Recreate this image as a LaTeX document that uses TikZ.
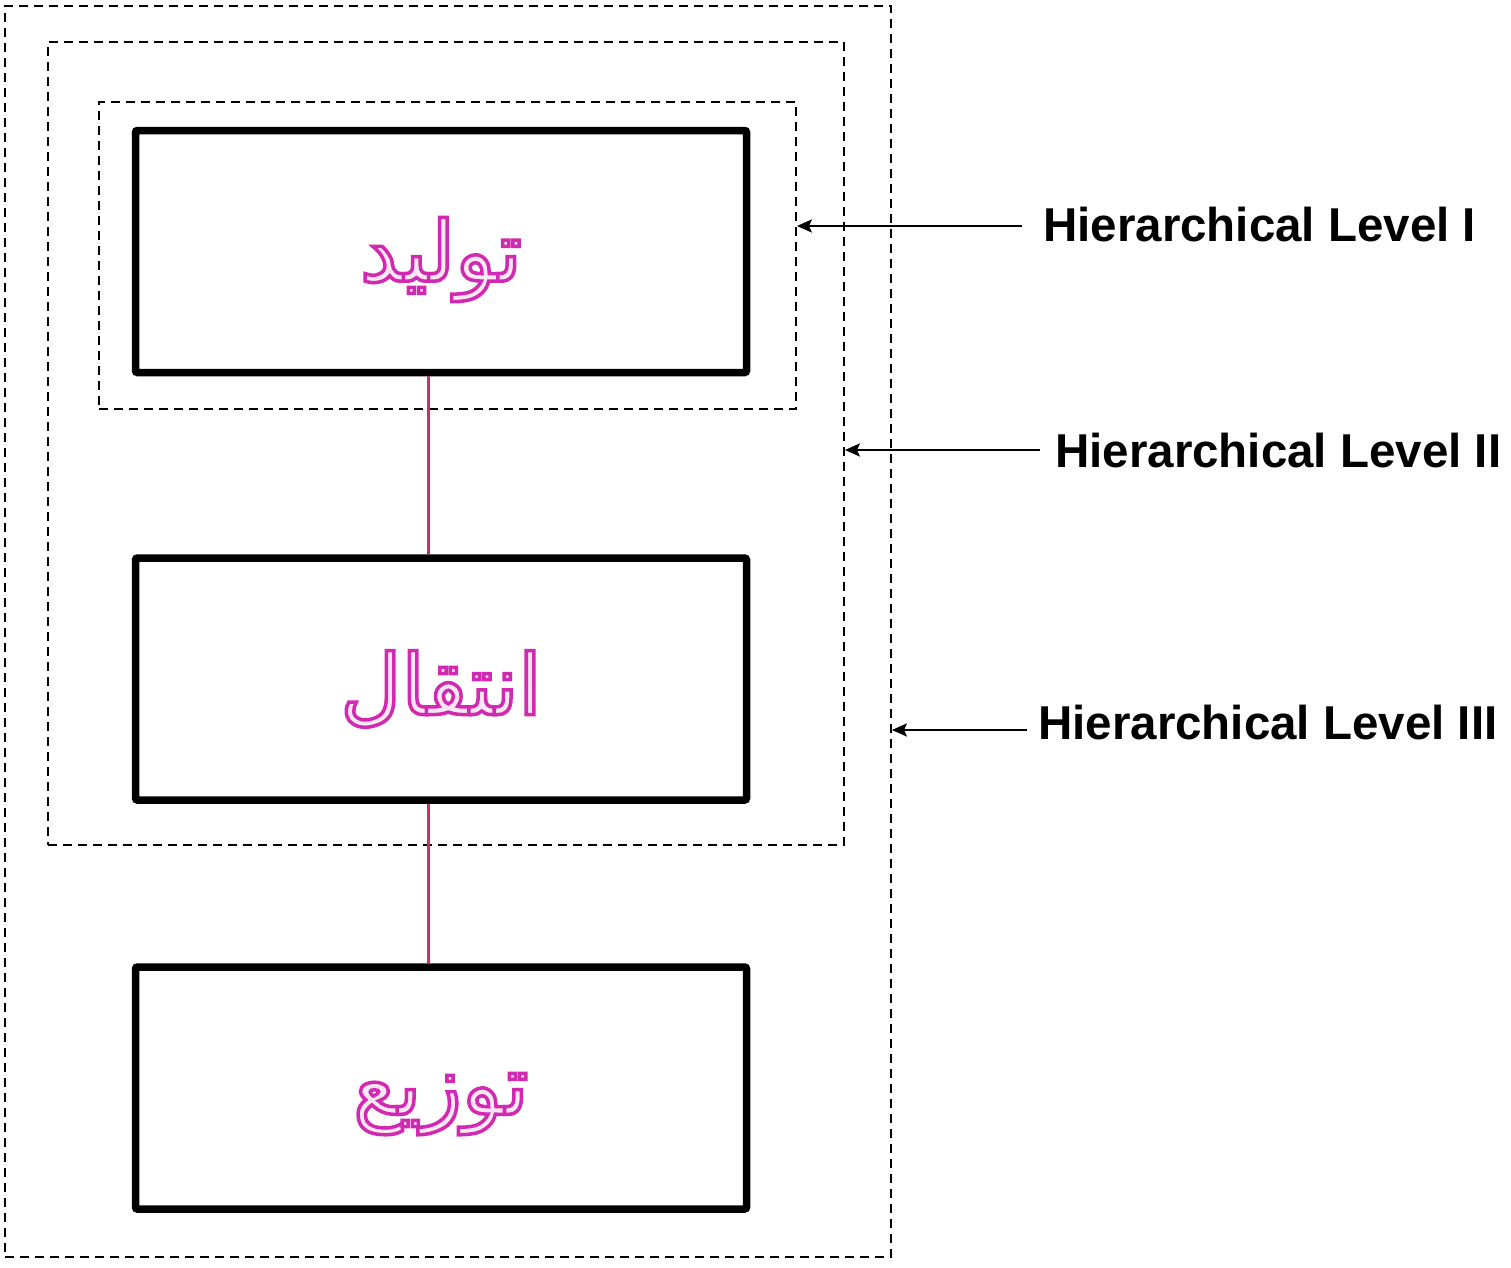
\documentclass[tikz,border=0pt]{standalone}
\usepackage{fontspec}
\setmainfont{Liberation Sans}
\newfontfamily\arabicfont[Script=Arabic]{DejaVu Sans}
\TeXXeTstate=1
\usetikzlibrary{arrows.meta}
\definecolor{lnk}{RGB}{192,52,104}
\definecolor{txtfill}{RGB}{251,230,243}
\newcommand\outlinetext[2]{\raisebox{#1}[\height][\depth]{\special{pdf:literal direct 2 Tr 3.5 w 0.82 0.16 0.70 RG}#2\special{pdf:literal direct 0 Tr}}}
\tikzset{
  procbox/.style={draw=black, line width=7.5pt, rounded corners=2pt, minimum width=611pt, minimum height=242pt, inner sep=0pt, text=txtfill, font=\arabicfont\fontsize{84}{90}\selectfont},
  levelbox/.style={draw=black, line width=1.8pt, dash pattern=on 9pt off 6pt, inner sep=0pt},
  lnkline/.style={draw=lnk, line width=3pt},
  lvlarrow/.style={draw=black, line width=2.5pt, -{Stealth[length=15pt,width=13pt,inset=3pt]}},
  lvllabel/.style={anchor=base west, inner sep=0pt, font=\bfseries\fontsize{47.5}{50}\selectfont}
}
\begin{document}
\begin{tikzpicture}[x=1pt,y=-1pt]
\useasboundingbox (0,0) rectangle (1511,1267);
% level boxes
\node[levelbox, minimum width=886pt, minimum height=1251pt] (lvlC) at (448,631.5) {};
\node[levelbox, minimum width=796pt, minimum height=803pt] (lvlB) at (446,443.5) {};
\node[levelbox, minimum width=697pt, minimum height=307pt] (lvlA) at (447.5,255.5) {};
% process boxes
\node[procbox] (b1) at (441,251.5) {\outlinetext{-8pt}{\beginR تولید\endR}};
\node[procbox] (b2) at (441,679) {\outlinetext{-10pt}{\beginR انتقال\endR}};
\node[procbox] (b3) at (441,1088) {\outlinetext{-16pt}{\beginR توزیع\endR}};
% connectors
\draw[lnkline] ([xshift=-13pt]b1.south) -- ([xshift=-13pt]b2.north);
\draw[lnkline] ([xshift=-13pt]b2.south) -- ([xshift=-13pt]b3.north);
% labels
\node[lvllabel] (l1) at (1043,241) {Hierarchical Level I};
\node[lvllabel] (l2) at (1055,467) {Hierarchical Level II};
\node[lvllabel] (l3) at (1038,739) {Hierarchical Level III};
\coordinate (a1) at (1022,226);
\coordinate (a2) at (1040,450);
\coordinate (a3) at (1027,730);
\draw[lvlarrow] (a1) -- (lvlA.east |- a1);
\draw[lvlarrow] (a2) -- (lvlB.east |- a2);
\draw[lvlarrow] (a3) -- (lvlC.east |- a3);
\end{tikzpicture}
\end{document}
